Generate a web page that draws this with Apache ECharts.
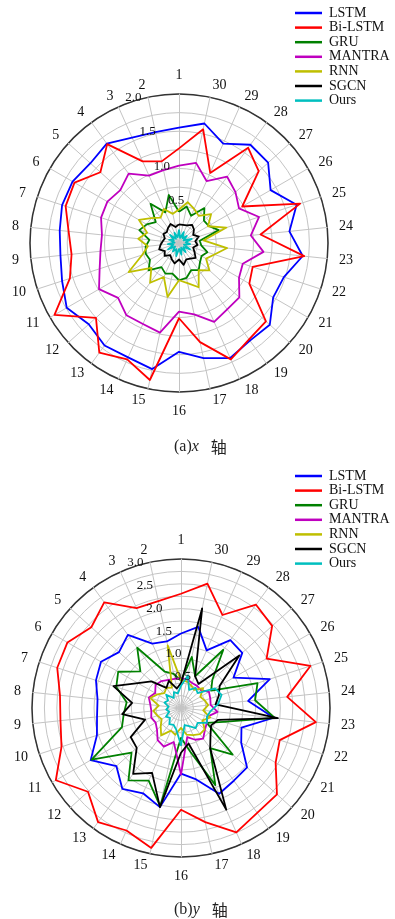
<!DOCTYPE html>
<html>
<head>
<meta charset="utf-8">
<script src="https://cdn.jsdelivr.net/npm/echarts@6/dist/echarts.min.js"></script>
<style>
  html, body { margin: 0; padding: 0; background: #fff; }
  #chart { width: 395px; height: 919px; }
</style>
</head>
<body>
<div id="chart"></div>
<script>
// spoke labels, counter-clockwise from the top
const categories = ['1', '2', '3', '4', '5', '6', '7', '8', '9', '10',
  '11', '12', '13', '14', '15', '16', '17', '18', '19', '20',
  '21', '22', '23', '24', '25', '26', '27', '28', '29', '30']
const models = ['LSTM', 'Bi-LSTM', 'GRU', 'MANTRA', 'RNN', 'SGCN', 'Ours']

// (a) x axis
const xLSTM = [1.55, 1.52, 1.55, 1.65, 1.6, 1.65, 1.65, 1.61, 1.6, 1.65, 1.74, 1.63, 1.7, 1.68, 1.73,
  1.46, 1.58, 1.69, 1.62, 1.64, 1.46, 1.48, 1.67, 1.49, 1.66, 1.42, 1.61, 1.63, 1.46, 1.64]
const xBiLSTM = [1.27, 1.12, 1.2, 1.64, 1.42, 1.62, 1.6, 1.49, 1.45, 1.54, 1.93, 1.5, 1.82, 1.71, 1.88,
  1.01, 1.36, 1.71, 1.6, 1.57, 1.09, 1.04, 1.69, 1.1, 1.71, 0.98, 1.44, 1.58, 1.03, 1.56]
const xGRU = [0.42, 0.66, 0.45, 0.65, 0.42, 0.5, 0.56, 0.4, 0.45, 0.47, 0.45, 0.55, 0.4, 0.45, 0.42,
  0.5, 0.48, 0.4, 0.45, 0.38, 0.35, 0.4, 0.3, 0.28, 0.56, 0.46, 0.45, 0.58, 0.4, 0.5]
const xMANTRA = [1.04, 1.0, 0.99, 1.15, 1.06, 1.11, 1.1, 1.04, 1.06, 1.12, 1.24, 1.1, 1.2, 1.19, 1.23,
  0.92, 0.98, 1.16, 1.1, 1.09, 0.93, 0.9, 1.14, 0.97, 1.13, 0.93, 1.02, 1.1, 0.91, 1.1]
const xRNN = [0.45, 0.4, 0.5, 0.42, 0.5, 0.62, 0.45, 0.55, 0.42, 0.52, 0.78, 0.5, 0.66, 0.5, 0.74,
  0.5, 0.55, 0.65, 0.45, 0.55, 0.42, 0.5, 0.65, 0.33, 0.67, 0.45, 0.58, 0.45, 0.5, 0.56]
const xSGCN = [0.25, 0.22, 0.28, 0.25, 0.22, 0.24, 0.2, 0.22, 0.25, 0.28, 0.22, 0.26, 0.2, 0.24, 0.28,
  0.22, 0.3, 0.24, 0.26, 0.3, 0.24, 0.2, 0.25, 0.22, 0.28, 0.22, 0.27, 0.3, 0.26, 0.25]
const xOurs = [0.18, 0.08, 0.15, 0.07, 0.16, 0.08, 0.14, 0.06, 0.15, 0.08, 0.17, 0.07, 0.14, 0.09, 0.18,
  0.08, 0.16, 0.07, 0.15, 0.08, 0.17, 0.07, 0.15, 0.09, 0.18, 0.07, 0.14, 0.08, 0.16, 0.07]

// (b) y axis
const yLSTM = [1.5, 1.37, 1.42, 1.82, 1.68, 1.86, 1.8, 1.69, 1.7, 1.78, 2.1, 1.75, 2.01, 1.88, 2.04,
  1.32, 1.47, 1.89, 1.81, 1.79, 1.4, 1.28, 1.88, 1.36, 1.88, 1.22, 1.66, 1.69, 1.27, 1.67]
const yBiLSTM = [2.3, 2.2, 2.2, 2.63, 2.43, 2.64, 2.62, 2.45, 2.44, 2.53, 2.91, 2.52, 2.84, 2.7, 2.88,
  2.05, 2.35, 2.74, 2.61, 2.6, 2.2, 2.09, 2.73, 2.15, 2.74, 1.99, 2.47, 2.57, 2.05, 2.56]
const yGRU = [0.55, 0.7, 0.8, 1.5, 1.1, 1.46, 1.37, 1.1, 1.16, 1.25, 2.08, 1.34, 1.8, 1.6, 2.02,
  0.6, 0.9, 1.7, 1.0, 1.4, 0.6, 0.9, 1.9, 1.5, 1.62, 0.7, 0.85, 1.45, 0.7, 1.05]
const yMANTRA = [0.6, 0.6, 0.62, 0.67, 0.69, 0.6, 0.68, 0.62, 0.6, 0.63, 0.59, 0.65, 0.8, 0.85, 0.7,
  1.34, 0.6, 0.7, 0.76, 0.65, 0.6, 0.56, 0.74, 0.6, 0.62, 0.65, 0.54, 0.55, 0.55, 0.59]
const yRNN = [0.55, 1.29, 0.45, 0.5, 0.45, 0.55, 0.65, 0.45, 0.56, 0.5, 0.45, 0.55, 0.68, 0.5, 0.55,
  0.4, 0.55, 0.6, 0.65, 0.64, 0.5, 0.62, 0.45, 0.55, 0.5, 0.45, 0.6, 0.45, 0.5, 0.55]
const ySGCN = [0.5, 0.4, 0.6, 0.5, 0.8, 1.0, 1.43, 0.99, 1.19, 0.76, 1.17, 1.2, 1.64, 1.43, 2.04,
  0.9, 0.73, 2.24, 1.0, 0.8, 0.7, 0.78, 1.96, 0.7, 0.8, 0.9, 1.58, 0.6, 0.7, 2.05]
const yOurs = [0.45, 0.3, 0.35, 0.25, 0.4, 0.3, 0.35, 0.25, 0.3, 0.25, 0.35, 0.3, 0.4, 0.37, 0.45,
  0.75, 0.35, 0.4, 0.5, 0.45, 0.6, 0.55, 0.6, 0.75, 0.86, 0.79, 0.45, 0.5, 0.4, 0.67]

const xSeries = [xLSTM, xBiLSTM, xGRU, xMANTRA, xRNN, xSGCN, xOurs]
const ySeries = [yLSTM, yBiLSTM, yGRU, yMANTRA, yRNN, ySGCN, yOurs]
const colors = ['#0000ff', '#ff0000', '#008000', '#bf00bf', '#bfbf00', '#000000', '#00bfbf']

const serif = 'Liberation Serif'
const gridGray = '#c4c4c4'

const radarOf = (center, max, rings) => ({
  center: center,
  radius: 149,
  startAngle: 90,
  shape: 'circle',
  splitNumber: rings,
  indicator: categories.map((c) => ({ name: c, min: 0, max: max })),
  axisName: { color: '#111', fontFamily: serif, fontSize: 14 },
  nameGap: 12,
  axisLine: { lineStyle: { color: gridGray, width: 1 } },
  axisTick: { show: false },
  axisLabel: { show: false },
  splitLine: { lineStyle: { color: gridGray, width: 1 } },
  splitArea: { show: false },
})

// polar only draws the dark rim and the radial tick labels
const polarOf = (center) => ({ center: center, radius: 149 })
const angleOf = (i) => ({
  polarIndex: i,
  type: 'value',
  min: 0,
  max: 360,
  startAngle: 112.5,
  axisLine: { lineStyle: { color: '#333', width: 1.5 } },
  axisTick: { show: false },
  axisLabel: { show: false },
  splitLine: { show: false },
})
const radiusOf = (i, max) => ({
  polarIndex: i,
  min: 0,
  max: max,
  interval: 0.5,
  z: 10,
  axisLine: { show: false },
  axisTick: { show: false },
  splitLine: { show: false },
  axisLabel: {
    margin: -21,
    padding: [8, 0, 0, 0],
    color: '#111',
    fontFamily: serif,
    fontSize: 13,
    formatter: (v) => (v === 0 ? '' : v.toFixed(1)),
  },
})

const seriesOf = (radarIndex, values) =>
  models.map((name, i) => ({
    type: 'radar',
    name: name,
    radarIndex: radarIndex,
    symbol: 'none',
    itemStyle: { color: colors[i] },
    lineStyle: { color: colors[i], width: 1.8 },
    data: [{ name: name, value: values[i] }],
  }))

const legendOf = (top) => ({
  data: models,
  orient: 'vertical',
  left: 295,
  top: top,
  padding: 0,
  icon: 'rect',
  itemWidth: 27,
  itemHeight: 2.5,
  itemGap: 0.6,
  textStyle: { color: '#111', fontFamily: serif, fontSize: 14, padding: [0, 0, 0, 2] },
})

const captionRich = {
  s: { fontFamily: serif, fontSize: 16, fontWeight: 'normal', color: '#222' },
  i: { fontFamily: serif, fontSize: 16, fontWeight: 'normal', fontStyle: 'italic', color: '#222' },
  c: { fontFamily: 'Noto Sans CJK SC', fontSize: 16, fontWeight: 'normal', color: '#222' },
}

const chart = echarts.init(document.getElementById('chart'))

chart.setOption({
  animation: false,
  backgroundColor: '#fff',
  title: [
    { text: '{s|(a)}{i|x}{s|   }{c|轴}', left: 169, top: 434, textStyle: { fontWeight: 'normal', rich: captionRich } },
    { text: '{s|(b)}{i|y}{s|   }{c|轴}', left: 169, top: 897, textStyle: { fontWeight: 'normal', rich: captionRich } },
  ],
  legend: [legendOf(6), legendOf(469)],
  radar: [radarOf([179, 243], 2, 8), radarOf([181, 708], 3, 12)],
  polar: [polarOf([179, 243]), polarOf([181, 708])],
  angleAxis: [angleOf(0), angleOf(1)],
  radiusAxis: [radiusOf(0, 2), radiusOf(1, 3)],
  series: [...seriesOf(0, xSeries), ...seriesOf(1, ySeries)],
})
</script>
</body>
</html>
